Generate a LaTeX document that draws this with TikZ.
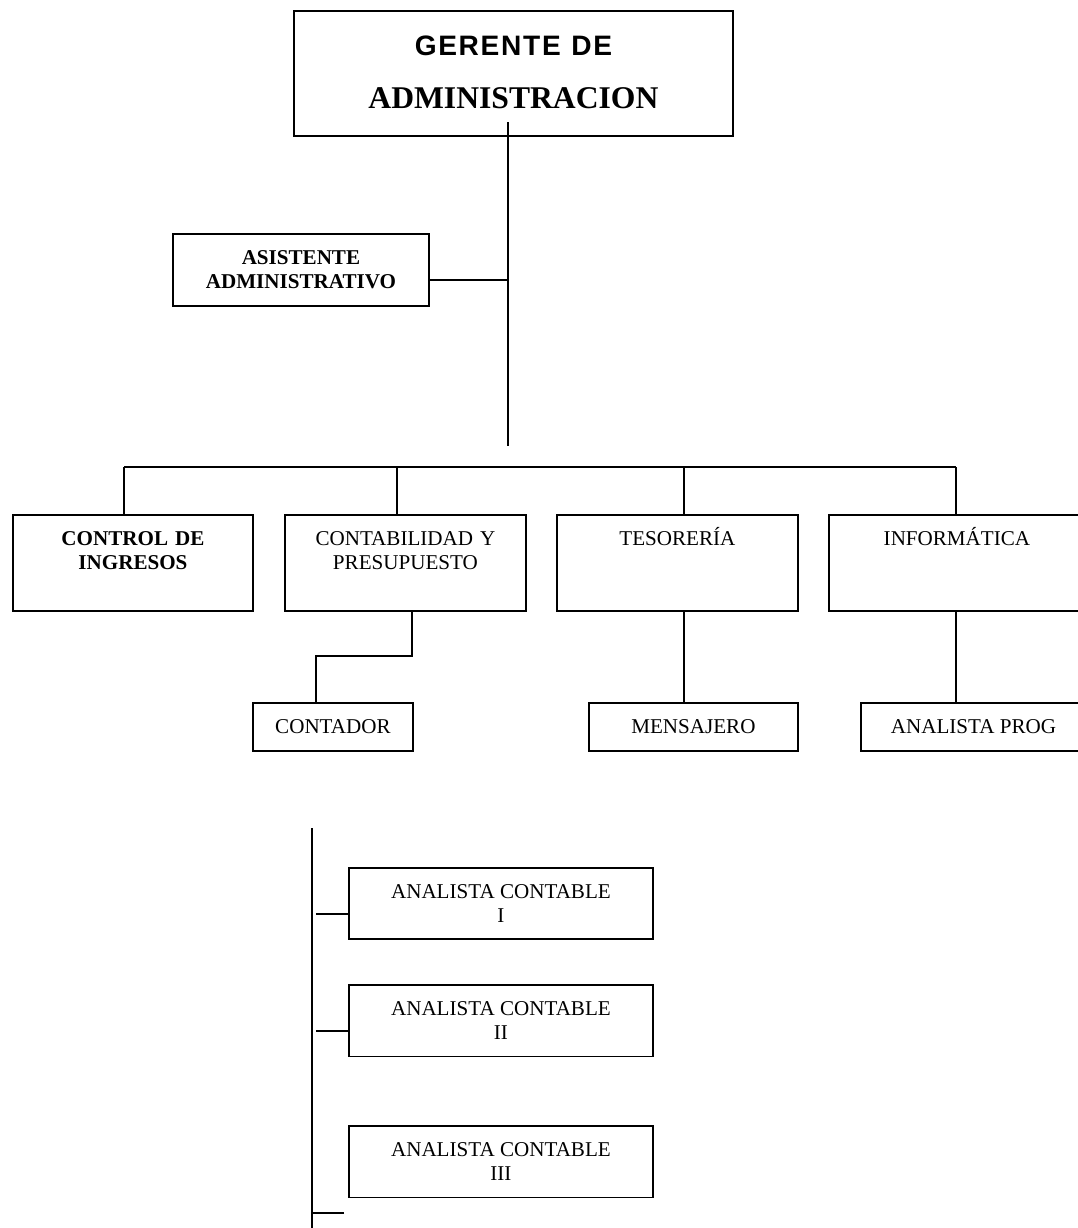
\documentclass[tikz,border=0pt]{standalone}
\usepackage{fontspec}
\setmainfont{Liberation Serif}
\newfontfamily\gerfont[LetterSpace=6]{Liberation Sans}
\usepackage{tikz}

\begin{document}
\begin{tikzpicture}[x=0.02cm,y=-0.02cm,line width=1.1pt,
  caja/.style={draw, inner sep=0pt, align=center, font=\fontsize{12}{13.6}\selectfont},
  alta/.style={caja, anchor=north west, inner ysep=9.6pt, text height=7.9pt, text depth=27.3pt},
  baja/.style={caja, anchor=north west}]

\useasboundingbox (0,0) rectangle (1078,1228);
\clip (0,0) rectangle (1078,1228);

%==================== gerente ====================
\node[caja, anchor=north west, text width=8.78cm, inner ysep=13.6pt, text height=11.5pt, text depth=32.7pt,
  font=\fontsize{18}{30.6}\selectfont\bfseries] (ger) at (293,10)
  {{\gerfont\fontsize{16}{18}\selectfont GERENTE DE}\\ADMINISTRACION};

\coordinate (hub) at (508,446);
\draw ([yshift=0.3cm]ger.south -| hub) -- (hub);

% asistente
\node[baja, minimum width=5.12cm, minimum height=1.44cm,
  font=\fontsize{12}{13.6}\selectfont\bfseries] (asis) at (172,233) {ASISTENTE\\ADMINISTRATIVO};
\coordinate (asisr) at ([yshift=-0.2cm]asis.east);
\draw (asisr) -- (asisr -| hub);

%==================== areas ====================
\node[alta, text width=4.8cm, font=\fontsize{12}{13.6}\selectfont\bfseries] (ctrl) at (12,514) {CONTROL DE\\INGRESOS};
\node[alta, text width=4.82cm] (cont) at (284,514) {CONTABILIDAD Y\\PRESUPUESTO};
\node[alta, text width=4.82cm] (tes) at (556,514) {TESORERÍA};
\node[alta, text width=5.12cm] (inf) at (828,514) {INFORMÁTICA};

% barra horizontal y bajadas
\foreach \n/\x in {d1/124,d2/397,d3/684,d4/956}
{
    \coordinate (\n) at (\x,467);
}
\draw (d1) -- (d4);
\foreach \d/\n in {d1/ctrl,d2/cont,d3/tes,d4/inf}
{
    \draw (\d) -- (\d |- \n.north);
}

%==================== segundo nivel ====================
\node[baja, minimum width=3.2cm, minimum height=0.96cm] (contador) at (252,702) {CONTADOR};
\node[baja, minimum width=4.18cm, minimum height=0.96cm] (mens) at (588,702) {MENSAJERO};
\node[baja, minimum width=4.5cm, minimum height=0.96cm] (prog) at (860,702) {ANALISTA PROG};

\coordinate (k1) at (412,656);
\coordinate (k2) at (316,656);
\draw (k1 |- cont.south) -- (k1) -- (k2) -- (k2 |- contador.north);
\draw (d3 |- tes.south) -- (d3 |- mens.north);
\draw (d4 |- inf.south) -- (d4 |- prog.north);

%==================== analistas contables ====================
\foreach \n/\y/\rom in {ac1/867/I,ac2/984/II,ac3/1125/III}
{
    \node[baja, minimum width=6.08cm, minimum height=1.43cm] (\n) at (348,\y) {ANALISTA CONTABLE\\\rom};
}

\coordinate (sp) at (312,828);
\coordinate (spb) at (312,1232);
\draw (sp) -- (spb);
\foreach \n in {ac1,ac2}
{
    \draw ([yshift=-0.2cm]\n.west) -- ++(-32,0);
}
\coordinate (stub) at (344,1213);
\draw (stub) -- (stub -| sp);

\end{tikzpicture}
\end{document}
